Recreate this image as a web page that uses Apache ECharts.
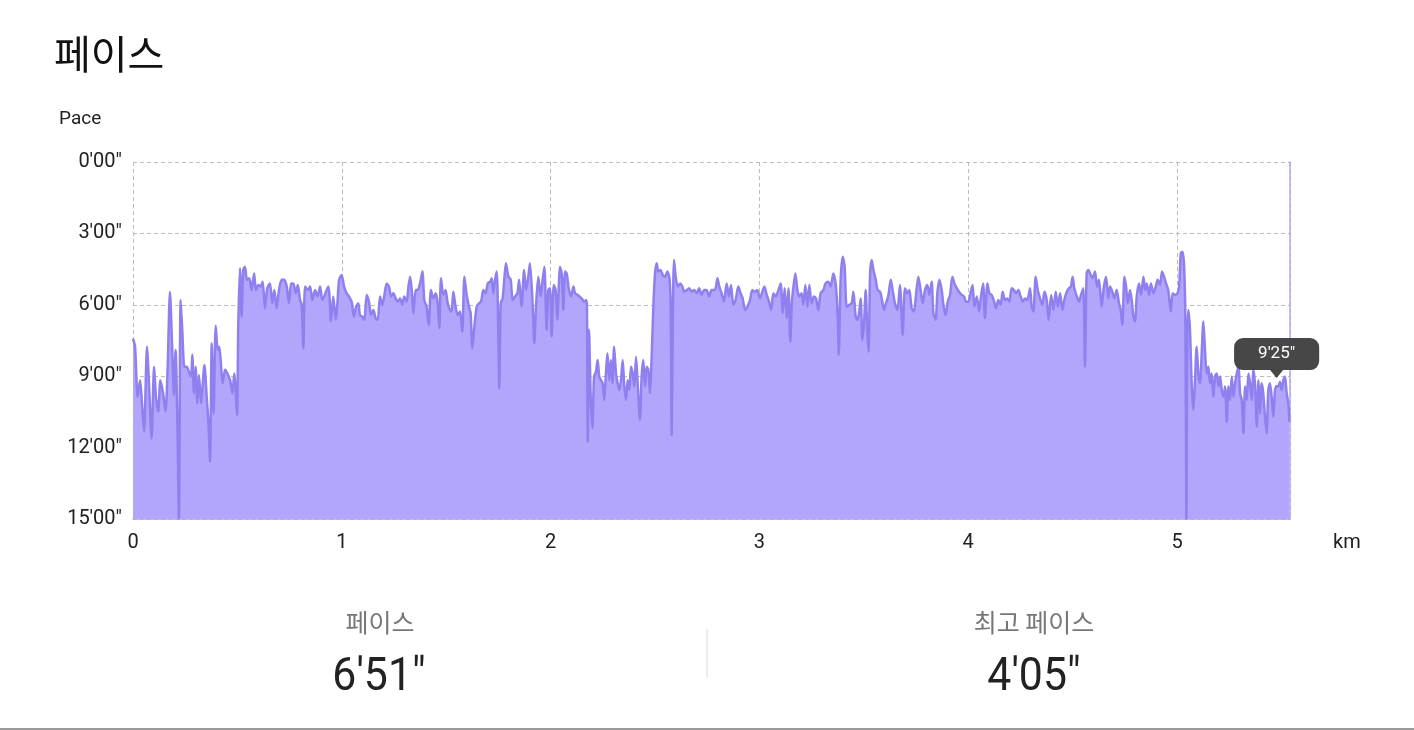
<!DOCTYPE html>
<html>
<head>
<meta charset="utf-8">
<script src="https://cdn.jsdelivr.net/npm/echarts@6/dist/echarts.min.js"></script>
<style>
html,body{margin:0;padding:0;background:#fff;}
#chart{width:1414px;height:730px;}
</style>
</head>
<body>
<div id="chart"></div>
<script>
// distance (km)
const distanceKm = [
0.000,0.010,0.022,0.034,0.042,0.053,0.067,0.078,0.089,0.101,0.110,0.121,0.131,0.144,0.156,0.166,0.177,0.188,0.196,0.204,
0.212,0.220,0.228,0.236,0.246,0.257,0.268,0.278,0.284,0.292,0.300,0.308,0.316,0.326,0.342,0.353,0.361,0.369,0.377,0.386,
0.396,0.406,0.413,0.421,0.429,0.441,0.452,0.465,0.476,0.485,0.498,0.504,0.512,0.520,0.528,0.536,0.546,0.557,0.568,0.580,
0.589,0.600,0.611,0.621,0.632,0.643,0.656,0.667,0.677,0.688,0.699,0.712,0.725,0.736,0.747,0.757,0.768,0.779,0.789,0.800,
0.808,0.816,0.824,0.837,0.848,0.859,0.872,0.884,0.896,0.907,
0.935,0.948,0.959,0.971,0.979,0.987,0.999,1.011,1.023,1.034,1.047,1.058,1.068,1.079,1.087,1.098,1.108,1.119,1.130,1.140,
1.151,1.162,1.172,1.183,1.194,1.204,1.215,1.226,1.236,1.247,1.258,1.268,1.279,1.290,1.299,1.311,1.319,1.327,1.335,1.343,
1.354,1.363,1.375,1.386,1.395,1.406,1.416,1.427,1.438,1.450,1.459,1.467,1.475,1.486,1.497,1.507,1.518,1.526,1.534,1.545,
1.555,1.566,1.577,1.587,1.598,1.609,1.617,1.625,1.635,1.646,1.657,1.667,1.678,1.689,1.699,1.710,1.718,1.726,1.734,1.742,
1.750,1.754,1.761,1.770,1.778,1.786,1.798,1.809,1.818,1.830,
1.841,1.849,1.861,1.873,1.882,1.893,1.901,1.913,1.922,1.930,1.941,1.952,1.960,1.970,1.981,1.989,1.997,2.005,2.015,2.024,
2.032,2.045,2.053,2.061,2.069,2.077,2.088,2.098,2.109,2.117,2.128,2.138,2.149,2.160,2.170,2.174,2.178,2.184,2.192,2.200,
2.208,2.217,2.225,2.233,2.241,2.249,2.257,2.264,2.272,2.281,2.289,2.296,2.304,2.313,2.321,2.329,2.337,2.345,2.353,2.361,
2.369,2.377,2.385,2.393,2.401,2.409,2.417,2.428,2.436,2.444,2.452,2.460,2.468,2.476,2.484,2.492,2.500,2.508,2.516,2.527,
2.537,2.548,2.559,2.569,2.575,2.580,2.585,2.591,2.599,2.609,2.620,2.631,2.640,2.652,2.663,2.676,2.687,2.700,2.711,2.723,
2.735,2.747,2.759,2.771,
2.787,2.799,2.808,2.819,2.830,2.843,2.854,2.864,2.875,2.886,2.899,2.910,2.920,2.931,2.942,2.955,2.966,2.979,2.990,3.003,
3.014,3.024,3.035,3.046,3.056,3.067,3.078,3.091,3.102,3.111,3.121,3.131,3.139,3.148,3.155,3.163,3.172,3.182,3.191,3.202,
3.210,3.220,3.230,3.239,3.250,3.261,3.271,3.282,3.293,3.306,3.317,3.330,3.341,3.354,3.365,3.375,3.380,3.389,3.399,3.408,
3.418,3.431,3.442,3.450,3.461,3.469,3.477,3.485,3.493,3.501,3.509,3.517,3.523,3.530,3.538,3.546,3.557,3.566,3.578,3.587,
3.597,3.606,3.618,3.629,3.638,3.649,3.661,3.673,3.686,3.697,3.708,
3.718,3.729,3.740,3.750,3.761,3.772,3.782,3.793,3.804,3.814,3.825,3.833,3.844,3.852,3.862,3.873,3.881,3.892,3.902,3.913,
3.924,3.934,3.945,3.956,3.969,3.980,3.989,4.001,4.012,4.021,4.029,4.041,4.052,4.061,4.071,4.080,4.092,4.101,4.112,4.124,
4.133,4.144,4.155,4.165,4.176,4.187,4.197,4.208,4.219,4.229,4.240,4.251,4.261,4.272,4.283,4.296,4.304,4.312,4.323,4.333,
4.344,4.355,4.365,4.376,4.385,4.397,4.408,4.419,4.429,4.440,4.451,4.460,4.472,4.483,4.492,4.500,4.508,4.520,4.531,4.540,
4.551,4.559,4.567,4.575,4.587,4.596,4.607,4.617,4.626,
4.639,4.650,4.660,4.671,4.679,4.690,4.700,4.711,4.722,4.730,4.738,4.748,4.756,4.764,4.775,4.783,4.791,4.799,4.807,4.818,
4.828,4.839,4.847,4.855,4.866,4.875,4.887,4.898,4.907,4.919,4.928,4.938,4.947,4.958,4.970,4.979,4.990,5.002,5.010,5.018,
5.026,5.034,5.040,5.045,5.049,5.054,5.062,5.070,5.078,5.086,5.094,5.102,5.110,5.118,5.126,5.134,5.142,5.150,5.158,5.166,
5.174,5.182,5.190,5.198,5.206,5.214,5.222,5.230,5.238,5.246,5.254,5.262,5.270,5.278,5.286,5.294,5.302,5.310,5.318,5.326,
5.334,5.342,5.350,5.358,5.366,5.374,5.382,5.390,5.398,5.405,5.413,5.421,5.429,5.437,5.445,5.453,5.461,5.469,5.477,5.485,
5.493,5.501,5.509,5.517,5.525,5.533,5.538
];
// pace (seconds per km)
const paceSec = [
445,466,592,550,600,680,466,575,697,516,592,629,550,583,629,516,327,474,587,474,
642,900,348,423,516,516,529,541,486,583,516,608,537,608,512,592,655,755,457,634,
413,474,466,508,558,524,533,550,583,533,638,415,268,390,272,264,297,293,323,281,
323,310,314,302,369,318,306,356,323,369,323,297,297,314,356,306,306,331,310,348,
360,470,314,323,314,348,323,339,314,348,
314,402,339,398,356,297,285,314,331,339,352,390,365,356,386,390,398,335,352,386,
373,394,398,339,360,335,306,314,339,331,344,352,344,360,339,352,314,289,323,381,
323,323,306,276,348,365,411,323,344,331,356,419,293,335,323,356,373,377,327,365,
386,377,428,289,335,365,381,470,415,365,356,352,323,331,306,302,293,331,297,276,
449,571,356,344,297,255,289,297,348,339,
331,297,365,272,323,289,255,348,457,365,289,339,306,264,423,323,318,440,310,323,
398,264,281,373,276,281,323,339,314,331,335,339,344,352,348,365,705,423,592,671,
541,529,499,541,550,558,600,541,482,550,499,558,466,533,558,575,550,499,566,600,
550,575,516,533,566,491,558,650,541,499,566,516,524,583,491,365,281,255,276,272,
285,289,276,293,365,688,407,247,289,314,306,314,327,323,318,327,323,331,318,335,
323,323,339,323,
323,293,314,331,352,306,339,310,360,348,314,331,344,373,365,348,323,327,323,344,
327,314,335,352,373,331,339,323,306,381,318,394,318,453,356,314,281,323,339,331,
360,310,365,310,356,339,344,373,331,323,306,302,314,281,306,390,486,297,239,264,
365,360,356,327,390,398,381,344,449,407,323,432,478,281,247,272,297,323,327,348,
373,356,335,297,323,356,373,310,436,318,331,
323,369,377,335,289,323,356,323,310,335,302,381,398,331,297,323,360,386,352,335,
289,306,318,327,335,339,352,352,327,310,365,339,377,339,306,394,306,331,335,352,
369,348,360,327,348,344,352,318,323,331,323,339,352,344,348,318,365,377,289,323,
344,360,327,348,398,335,373,327,365,331,373,348,327,318,314,289,318,339,352,335,
318,516,281,272,285,293,276,314,297,
365,314,289,344,314,327,344,323,356,373,411,289,314,356,323,348,390,402,339,306,
335,289,323,306,335,306,331,314,297,310,276,289,306,323,377,331,335,331,314,230,
226,264,407,900,449,373,423,558,625,550,466,533,558,482,402,474,533,516,558,533,
592,541,533,566,541,575,592,566,655,566,600,541,592,558,533,516,583,600,684,566,
600,533,558,600,524,566,667,550,634,558,583,642,684,575,558,592,642,575,565,566,
554,575,550,541,583,608,655
];
// y-axis ticks (seconds), x-axis ticks (km)
const yTicks = [0,180,360,540,720,900];
const xTicks = [0,1,2,3,4,5];
const xMaxKm = 5.541;
// highlighted point (tooltip)
const highlightIndex = distanceKm.indexOf(5.477);
// summary values
const titleText = '페이스';
const axisNameY = 'Pace';
const axisNameX = 'km';
const avgLabel = '페이스';
const bestLabel = '최고 페이스';
const avgPaceSec = 411;   // 6'51"
const bestPaceSec = 245;  // 4'05"

function fmt(s){
  const m = Math.floor(s/60);
  const ss = Math.round(s - m*60);
  return m + "'" + (ss<10?'0':'') + ss + '"';
}

const seriesData = distanceKm.map((d,i)=>[d, paceSec[i]]);

const chart = echarts.init(document.getElementById('chart'), null, {renderer:'canvas'});
const gridLine = {show:true, lineStyle:{color:'#bdbdbd', type:[4,3], width:1}};
const labelFont = {color:'#222', fontSize:20, fontFamily:'Roboto'};

chart.setOption({
  animation:false,
  backgroundColor:'#fff',
  grid:{left:133, right:124, top:162, bottom:211, containLabel:false},
  xAxis:{
    type:'value', min:0, max:xMaxKm, interval:1,
    axisLine:{show:true, onZero:false, lineStyle:{color:'#b1a6f4', width:1.5}},
    axisTick:{show:false},
    axisLabel:Object.assign({margin:14, showMaxLabel:false, formatter:v=> xTicks.includes(v)? String(v):''}, labelFont),
    splitLine:gridLine
  },
  yAxis:[{
    type:'value', inverse:true, min:yTicks[0], max:yTicks[yTicks.length-1], interval:180,
    axisLine:{show:false}, axisTick:{show:false},
    axisLabel:Object.assign({margin:11, formatter:v=>fmt(v)}, labelFont),
    splitLine:gridLine
  },{
    type:'value', inverse:true, min:0, max:900, position:'right',
    axisLine:{show:true, lineStyle:{color:'#b1a6f4', width:1.5}},
    axisTick:{show:false}, axisLabel:{show:false}, splitLine:{show:false}
  }],
  series:[{
    type:'line',
    data:seriesData,
    showSymbol:false,
    smooth:0.25,
    lineStyle:{color:'#8f80f0', width:2.5},
    areaStyle:{color:'#b2a6fc', opacity:1, origin:'end'},
    itemStyle:{color:'#8f80f0'},
    markPoint:{
      silent:true,
      data:[
        {coord:seriesData[highlightIndex], symbol:'triangle', symbolRotate:180, symbolSize:[13,8], symbolOffset:[0,-12],
         itemStyle:{color:'#474747'},
         label:{show:true, position:'top', distance:0, formatter:()=>fmt(seriesData[highlightIndex][1]),
                color:'#fff', fontSize:17, fontFamily:'Roboto', lineHeight:20,
                backgroundColor:'#474747', borderRadius:9, padding:[6,24,6,24]}}
      ]
    }
  }],
  graphic:[
    {type:'text', left:54, top:34, style:{text:titleText, fontSize:40, fontFamily:'Noto Sans CJK KR', fill:'#111'}},
    {type:'text', left:59, top:110, style:{text:axisNameY, fontSize:19, fontFamily:'Roboto', fill:'#222'}},
    {type:'text', left:1333, top:533, style:{text:axisNameX, fontSize:20, fontFamily:'Roboto', fill:'#222'}},
    {type:'text', x:380, y:622, style:{text:avgLabel, fontSize:25, fontFamily:'Noto Sans CJK KR', fill:'#777', align:'center', verticalAlign:'middle'}},
    {type:'text', x:1034, y:622, style:{text:bestLabel, fontSize:25, fontFamily:'Noto Sans CJK KR', fill:'#777', align:'center', verticalAlign:'middle'}},
    {type:'text', x:379, y:678, scaleX:0.93, style:{text:fmt(avgPaceSec), fontSize:46, fontFamily:'Roboto', fill:'#222', align:'center', verticalAlign:'middle'}},
    {type:'text', x:1034, y:678, scaleX:0.93, style:{text:fmt(bestPaceSec), fontSize:46, fontFamily:'Roboto', fill:'#222', align:'center', verticalAlign:'middle'}},
    {type:'rect', shape:{x:706, y:629, width:2, height:48}, style:{fill:'#ececec'}},
    {type:'rect', shape:{x:0, y:728, width:1414, height:2}, style:{fill:'#9a9a9a'}}
  ]
});
</script>
</body>
</html>
